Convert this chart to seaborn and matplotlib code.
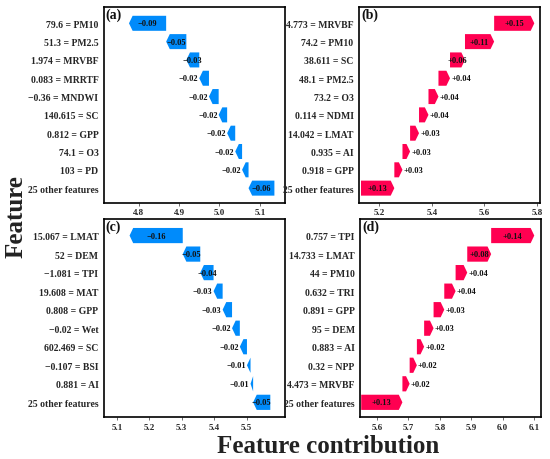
import matplotlib
matplotlib.use("Agg")
import matplotlib.pyplot as plt
from matplotlib.patches import Polygon
from matplotlib.ticker import FormatStrFormatter
import seaborn as sns

# ---- data ----
a_labels = ["79.6 = PM10", "51.3 = PM2.5", "1.974 = MRVBF", "0.083 = MRRTF",
            "\u22120.36 = MNDWI", "140.615 = SC", "0.812 = GPP", "74.1 = O3",
            "103 = PD", "25 other features"]
a_values = [-0.092, -0.050, -0.032, -0.024, -0.024, -0.021, -0.020, -0.017, -0.016, -0.064]
a_base = 5.136
a_ticks = [4.8, 4.9, 5.0, 5.1]

b_labels = ["4.773 = MRVBF", "74.2 = PM10", "38.611 = SC", "48.1 = PM2.5",
            "73.2 = O3", "0.114 = NDMI", "14.042 = LMAT", "0.935 = AI",
            "0.918 = GPP", "25 other features"]
b_values = [0.153, 0.111, 0.057, 0.044, 0.038, 0.036, 0.034, 0.029, 0.031, 0.127]
b_base = 5.130
b_ticks = [5.2, 5.4, 5.6, 5.8]

c_labels = ["15.067 = LMAT", "52 = DEM", "\u22121.081 = TPI", "19.608 = MAT",
            "0.808 = GPP", "\u22120.02 = Wet", "602.469 = SC", "\u22120.107 = BSI",
            "0.881 = AI", "25 other features"]
c_values = [-0.164, -0.054, -0.041, -0.028, -0.029, -0.024, -0.022, -0.011, -0.008, -0.053]
c_base = 5.573
c_ticks = [5.1, 5.2, 5.3, 5.4, 5.5]

d_labels = ["0.757 = TPI", "14.733 = LMAT", "44 = PM10", "0.632 = TRI",
            "0.891 = GPP", "95 = DEM", "0.883 = AI", "0.32 = NPP",
            "4.473 = MRVBF", "25 other features"]
d_values = [0.137, 0.076, 0.037, 0.036, 0.034, 0.030, 0.023, 0.023, 0.023, 0.131]
d_base = 5.550
d_ticks = [5.6, 5.7, 5.8, 5.9, 6.0, 6.1]

sns.set_theme(style="white")
plt.rcParams['font.family'] = ['Liberation Serif', 'DejaVu Serif']
plt.rcParams['font.weight'] = 'bold'

POS = "#ff0051"
NEG = "#008bfb"


def waterfall(ax, labels, values, base, ticks, xlim, tag):
    n = len(values)
    rng = xlim[1] - xlim[0]
    h = 0.82
    # cumulative from the bottom row ("other features") upward
    start = base
    for i in range(n - 1, -1, -1):
        v = values[i]
        y = n - 1 - i
        end = start + v
        w = abs(v)
        head = min(w, 0.02 * rng)
        if v < 0:
            pts = [(start, y - h / 2), (end + head, y - h / 2), (end, y),
                   (end + head, y + h / 2), (start, y + h / 2)]
            col = NEG
        else:
            pts = [(start, y - h / 2), (end - head, y - h / 2), (end, y),
                   (end - head, y + h / 2), (start, y + h / 2)]
            col = POS
        ax.add_patch(Polygon(pts, closed=True, facecolor=col, edgecolor='none'))
        txt = f"{v:+.2f}".replace("-", "\u2212")
        if w / rng > 0.068:
            ax.text((start + end) / 2, y, txt, ha='center', va='center',
                    fontsize=6, fontweight='bold', color='#111111')
        elif v < 0:
            ax.text(end - 0.006 * rng, y, txt, ha='right', va='center',
                    fontsize=6, fontweight='bold', color='#111111')
        else:
            ax.text(end + 0.006 * rng, y, txt, ha='left', va='center',
                    fontsize=6, fontweight='bold', color='#111111')
        start = end

    ax.set_xlim(*xlim)
    ax.set_ylim(-0.8, n - 1 + 0.9)
    ax.set_yticks(range(n))
    ax.set_yticklabels(labels[::-1], fontsize=7, fontweight='bold')
    ax.set_xticks(ticks)
    ax.xaxis.set_major_formatter(FormatStrFormatter('%.1f'))
    for lab in ax.get_xticklabels():
        lab.set_fontweight('bold')
    ax.tick_params(axis='x', labelsize=6.5, length=2, width=0.6, color='#555555',
                   direction='out', bottom=True, pad=2)
    ax.tick_params(axis='y', length=0, pad=4)
    for s in ax.spines.values():
        s.set_color('black')
        s.set_linewidth(1.2)
    ax.text(0.01, 0.995, tag, transform=ax.transAxes, ha='left', va='top',
            fontsize=10, fontweight='bold', color='#111111')


fig = plt.figure(figsize=(5.5, 4.6), dpi=100)
ax_a = fig.add_axes([0.189, 0.557, 0.329, 0.426])
ax_b = fig.add_axes([0.653, 0.557, 0.329, 0.426])
ax_c = fig.add_axes([0.189, 0.091, 0.329, 0.431])
ax_d = fig.add_axes([0.655, 0.091, 0.329, 0.431])

waterfall(ax_a, a_labels, a_values, a_base, a_ticks, (4.714, 5.162), "(a)")
waterfall(ax_b, b_labels, b_values, b_base, b_ticks, (5.123, 5.812), "(b)")
waterfall(ax_c, c_labels, c_values, c_base, c_ticks, (5.060, 5.618), "(c)")
waterfall(ax_d, d_labels, d_values, d_base, d_ticks, (5.547, 6.122), "(d)")

fig.text(0.029, 0.530, "Feature", rotation=90, ha='center', va='center',
         fontsize=18, fontweight='bold', color='#222222')
fig.text(0.596, 0.016, "Feature contribution", ha='center', va='baseline',
         fontsize=18, fontweight='bold', color='#222222')

fig.savefig("out.png", dpi=100)
